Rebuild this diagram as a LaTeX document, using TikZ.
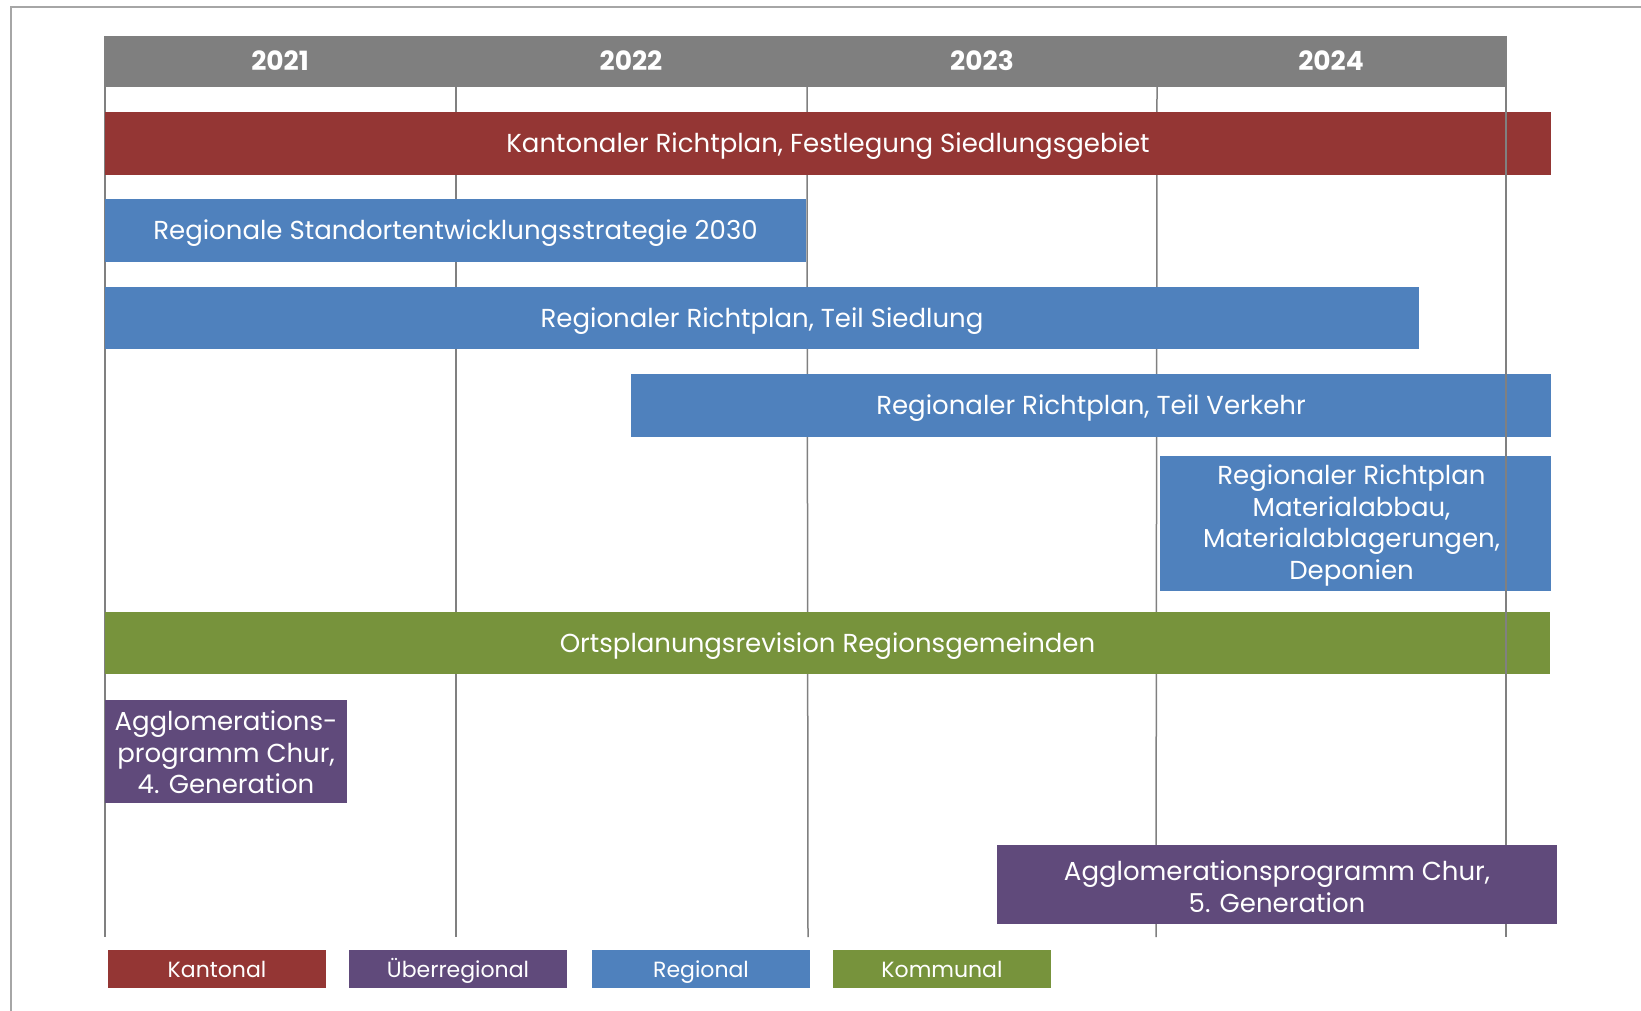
\documentclass[tikz,border=0pt]{standalone}
\usepackage{fontspec}
\setmainfont{Poppins}
\definecolor{kred}{HTML}{943634}
\definecolor{upurple}{HTML}{604A7B}
\definecolor{rblue}{HTML}{4F81BD}
\definecolor{kgreen}{HTML}{77933C}
\definecolor{hgray}{HTML}{7F7F7F}
\definecolor{gline}{HTML}{808080}
\definecolor{bline}{HTML}{A6A6A6}
\tikzset{
  barbox/.style={anchor=north west, inner sep=0pt, outer sep=0pt},
  bartext/.style={text=white, align=center, inner sep=0pt, yshift=-3pt,
    font=\fontsize{26}{31.5}\selectfont},
  legbox/.style={anchor=north west, inner sep=0pt, outer sep=0pt, text=white,
    minimum width=218pt, minimum height=38pt},
  legtext/.style={text=white, inner sep=0pt, text height=22pt, text depth=4.6pt,
    font=\fontsize{22}{26}\selectfont},
  yearlbl/.style={text=white, font=\fontsize{26.5}{30}\selectfont\bfseries},
  grid/.style={draw=gline, line width=1.5pt},
  frameline/.style={draw=bline, line width=1.6pt}
}
\begin{document}
\begin{tikzpicture}[x=1pt,y=-1pt]
\useasboundingbox (0,0) rectangle (1641,1011);
% frame
\draw[frameline] (11,1011) -- (11,7) -- (1641,7);
% header
\fill[hgray] (105,36) rectangle (1507,87);
\node[yearlbl] (y1) at (280,61) {2021};
\node[yearlbl] (y2) at (631,61) {2022};
\node[yearlbl] (y3) at (982,61) {2023};
\node[yearlbl] (y4) at (1331,61) {2024};
% grid lines behind bars
\draw[grid] (105,36) -- (105,937);
\draw[grid] (456,87) -- (456,937);
\draw[grid] (807,87) -- (808,937);
\draw[grid] (1157,87) -- (1156,937);
% bars
\node[barbox, fill=kred, minimum width=1446pt, minimum height=63pt] (b1) at (105,112) {};
\node[bartext] (t1) at (b1.center) {Kantonaler Richtplan, Festlegung Siedlungsgebiet};
\node[barbox, fill=rblue, minimum width=701pt, minimum height=63pt] (b2) at (105,199) {};
\node[bartext] (t2) at (b2.center) {Regionale Standortentwicklungsstrategie 2030};
\node[barbox, fill=rblue, minimum width=1314pt, minimum height=62pt] (b3) at (105,287) {};
\node[bartext] (t3) at (b3.center) {Regionaler Richtplan, Teil Siedlung};
\node[barbox, fill=rblue, minimum width=920pt, minimum height=63pt] (b4) at (631,374) {};
\node[bartext] (t4) at (b4.center) {Regionaler Richtplan, Teil Verkehr};
\node[barbox, fill=rblue, minimum width=391pt, minimum height=135pt] (b5) at (1160,456) {};
\node[bartext, xshift=-4pt, yshift=1pt] (t5) at (b5.center) {Regionaler Richtplan\\Materialabbau,\\Materialablagerungen,\\Deponien};
\node[barbox, fill=kgreen, minimum width=1445pt, minimum height=62pt] (b6) at (105,612) {};
\node[bartext] (t6) at (b6.center) {Ortsplanungsrevision Regionsgemeinden};
\node[barbox, fill=upurple, minimum width=242pt, minimum height=103pt] (b7) at (105,700) {};
\node[bartext, yshift=2pt] (t7) at (b7.center) {Agglomerations-\\programm Chur,\\4. Generation};
% last grid line over most bars
\draw[grid] (1506,36) -- (1506,937);
\node[barbox, fill=upurple, minimum width=560pt, minimum height=79pt] (b8) at (997,845) {};
\node[bartext, yshift=1pt] (t8) at (b8.center) {Agglomerationsprogramm Chur,\\5. Generation};
% legend
\node[legbox, fill=kred] (l1) at (108,950) {};
\node[legtext] (lt1) at (l1.center) {Kantonal};
\node[legbox, fill=upurple] (l2) at (349,950) {};
\node[legtext] (lt2) at (l2.center) {Überregional};
\node[legbox, fill=rblue] (l3) at (592,950) {};
\node[legtext] (lt3) at (l3.center) {Regional};
\node[legbox, fill=kgreen] (l4) at (833,950) {};
\node[legtext] (lt4) at (l4.center) {Kommunal};
\end{tikzpicture}
\end{document}
